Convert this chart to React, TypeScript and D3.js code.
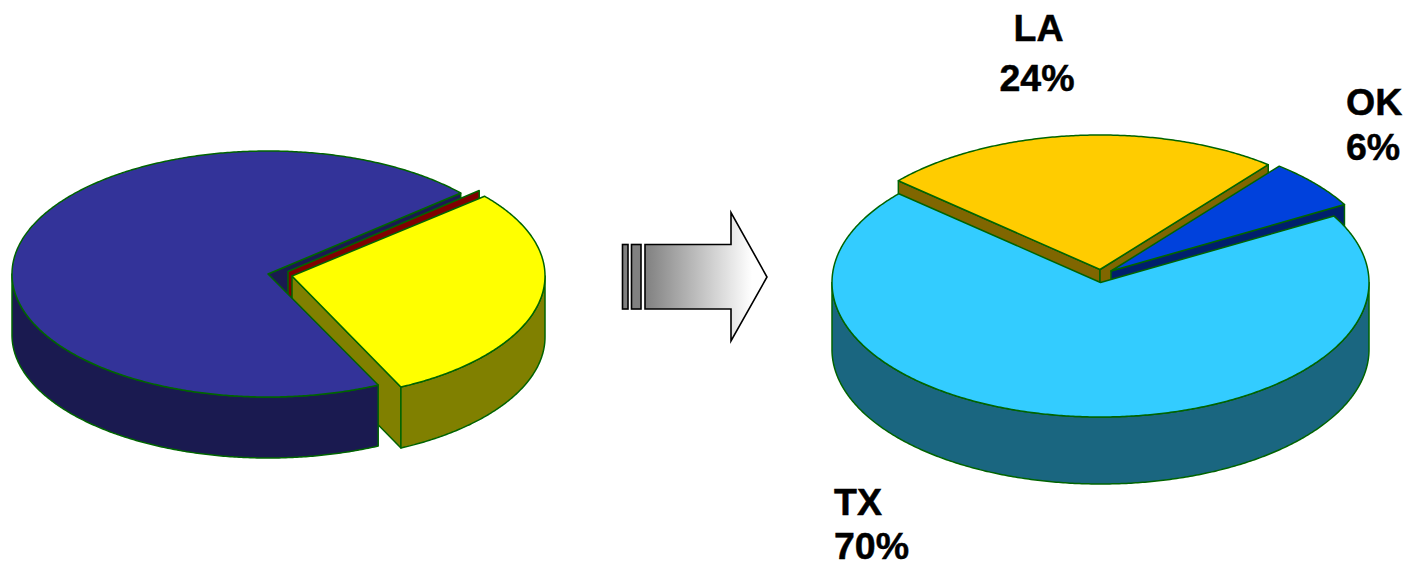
import React from "react";
import * as d3 from "d3";

// ---- data ----
const leftCategories = ["Navy", "Red", "Yellow"];
const leftValues = [70.65, 0.2, 29.15];
const rightCategories = ["TX", "LA", "OK"];
const rightValues = [69.7, 24.3, 6];
const rightLabels = ["70%", "24%", "6%"];

// ---- layout ----
const W = 1410, H = 563;
const EDGE = "#006400";
const DEG = Math.PI / 180;

type Face = { top: string; side: string; ox: number; oy: number; rx: number };
type Pie3D = { ry: number; depth: number; start: number; faces: Face[] };

const leftPie: Pie3D = {
  ry: 123, depth: 61, start: 154.5 * DEG,
  faces: [
    { top: "#333399", side: "#1a1a50", ox: 268, oy: 274, rx: 256 },
    { top: "#800000", side: "#800000", ox: 288, oy: 271.5, rx: 254 },
    { top: "#ffff00", side: "#808000", ox: 292, oy: 276, rx: 253 },
  ],
};
const rightPie: Pie3D = {
  ry: 134.5, depth: 67, start: 60.4 * DEG,
  faces: [
    { top: "#33ccff", side: "#1a6680", ox: 1100.5, oy: 282.5, rx: 268.5 },
    { top: "#ffcc00", side: "#806600", ox: 1100, oy: 269.5, rx: 268.5 },
    { top: "#0041dc", side: "#001f6c", ox: 1111, oy: 271, rx: 268.5 },
  ],
};

function slices(values: number[], cfg: Pie3D) {
  const arcs = d3.pie<number>().sort(null).startAngle(cfg.start).endAngle(cfg.start + 2 * Math.PI)(values);
  return arcs.map((a, i) => {
    const f = cfg.faces[i];
    const sx = d3.scaleLinear().domain([-1, 1]).range([f.ox - f.rx, f.ox + f.rx]);
    const sy = d3.scaleLinear().domain([-1, 1]).range([f.oy + cfg.ry, f.oy - cfg.ry]);
    const pt = (t: number, dy = 0): [number, number] => [sx(Math.sin(t)), sy(Math.cos(t)) + dy];
    const rim = (a0: number, a1: number, dy = 0) => {
      const n = Math.max(2, Math.ceil(Math.abs(a1 - a0) / (0.5 * DEG)));
      return d3.range(n + 1).map((k) => pt(a0 + ((a1 - a0) * k) / n, dy));
    };
    const line = d3.line();
    const apex: [number, number] = [f.ox, f.oy];
    const apexLow: [number, number] = [f.ox, f.oy + cfg.depth];
    return {
      f,
      top: line([apex, ...rim(a.startAngle, a.endAngle), apex]) + "Z",
      wall: (t: number) => line([apex, pt(t), pt(t, cfg.depth), apexLow]) + "Z",
      band: () => {
        // the visible front part of the rim, 90 to 270 degrees clockwise from twelve o'clock;
        // slices past a full turn are brought back by one turn first
        const turn = a.startAngle >= 2 * Math.PI ? 2 * Math.PI : 0;
        const a0 = Math.max(a.startAngle - turn, 90 * DEG);
        const a1 = Math.min(a.endAngle - turn, 270 * DEG);
        if (a1 <= a0) return "";
        return line([...rim(a0, a1), ...rim(a1, a0, cfg.depth)]) + "Z";
      },
      startAngle: a.startAngle,
      endAngle: a.endAngle,
    };
  });
}

const P = ({ d, fill }: { d: string; fill: string }) =>
  d ? <path d={d} fill={fill} stroke={EDGE} strokeWidth={1.5} strokeLinejoin="round" /> : null;

const labelStyle: React.CSSProperties = {
  fontFamily: "'Liberation Sans', Arial, sans-serif",
  fontWeight: 700,
  fontSize: 37.5,
  fill: "#000",
  stroke: "#000",
  strokeWidth: 0.5,
};

export default function App() {
  const [navy, red, yellow] = slices(leftValues, leftPie);
  const [tx, la, ok] = slices(rightValues, rightPie);
  const arrowLine = d3.line();
  return (
    <svg
      width={W}
      height={H}
      viewBox={`0 0 ${W} ${H}`}
      style={{ position: "absolute", left: 0, top: 0, background: "#fff", display: "block" }}
    >
      <defs>
        <linearGradient id="arrowFill" gradientUnits="userSpaceOnUse" x1={645} x2={752} y1={0} y2={0}>
          <stop offset="0" stopColor="#808080" />
          <stop offset="1" stopColor="#ffffff" />
        </linearGradient>
      </defs>

      {/* left pie */}
      <g data-categories={leftCategories.join(",")}>
        <P d={navy.wall(navy.endAngle)} fill={navy.f.side} />
        <P d={red.wall(red.startAngle)} fill={red.f.side} />
        <P d={yellow.wall(yellow.endAngle)} fill={yellow.f.side} />
        <P d={yellow.band()} fill={yellow.f.side} />
        <P d={navy.band()} fill={navy.f.side} />
        <P d={navy.top} fill={navy.f.top} />
        <P d={yellow.top} fill={yellow.f.top} />
      </g>

      {/* arrow */}
      <g stroke="#000" strokeWidth={1.6} strokeLinejoin="miter">
        <rect x={622.5} y={244.5} width={5.5} height={64.5} fill="#808080" />
        <rect x={631.5} y={244.5} width={9.5} height={64.5} fill="#808080" />
        <path
          d={
            arrowLine([
              [645, 244.5], [731, 244.5], [731, 212.5], [767, 277], [731, 341], [731, 309], [645, 309],
            ]) + "Z"
          }
          fill="url(#arrowFill)"
        />
      </g>

      {/* right pie */}
      <g data-categories={rightCategories.join(",")}>
        <P d={la.wall(la.startAngle)} fill={la.f.side} />
        <P d={la.wall(la.endAngle)} fill={la.f.side} />
        <P d={la.top} fill={la.f.top} />
        <P d={ok.wall(ok.endAngle)} fill={ok.f.side} />
        <P d={ok.top} fill={ok.f.top} />
        <P d={tx.band()} fill={tx.f.side} />
        <P d={tx.top} fill={tx.f.top} />
      </g>

      {/* labels */}
      <g style={labelStyle}>
        <text x={1038.5} y={40.5} textAnchor="middle">{rightCategories[1]}</text>
        <text x={1037} y={90.5} textAnchor="middle">{rightLabels[1]}</text>
        <text x={1346} y={115}>{rightCategories[2]}</text>
        <text x={1346} y={160}>{rightLabels[2]}</text>
        <text x={834} y={515}>{rightCategories[0]}</text>
        <text x={834} y={559}>{rightLabels[0]}</text>
      </g>
    </svg>
  );
}
